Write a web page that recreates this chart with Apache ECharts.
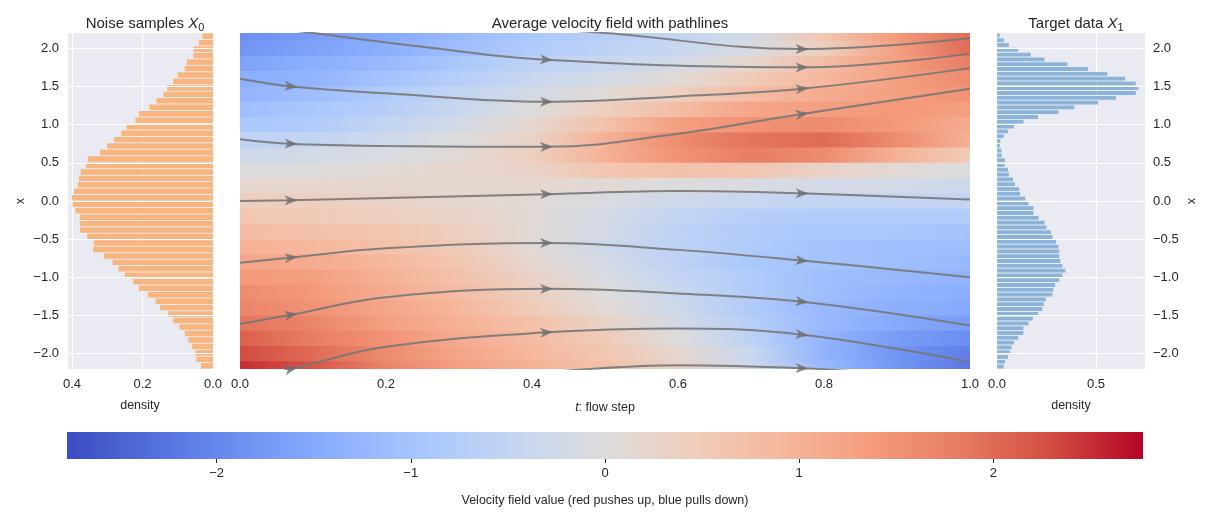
<!DOCTYPE html>
<html>
<head>
<meta charset="utf-8">
<script src="https://cdn.jsdelivr.net/npm/echarts@6/dist/echarts.min.js"></script>
<style>html,body{margin:0;padding:0;background:#fff}#main{width:1211px;height:512px}</style>
</head>
<body>
<div id="main"></div>
<script>
// noise histogram, bins from x=2.2 downwards
var noiseDensity = [0.03,0.04,0.055,0.056,0.074,0.08,0.10,0.113,0.13,0.14,0.16,0.18,0.21,0.22,0.245,0.26,0.28,0.30,0.32,0.355,0.36,0.375,0.38,0.383,0.394,0.40,0.398,0.39,0.378,0.377,0.377,0.357,0.338,0.34,0.31,0.285,0.268,0.25,0.226,0.21,0.185,0.163,0.15,0.127,0.113,0.095,0.08,0.07,0.06,0.05,0.047,0.034];
// target histogram, bins from x=2.2 downwards
var targetDensity = [0.014,0.034,0.06,0.107,0.17,0.24,0.355,0.46,0.557,0.647,0.70,0.713,0.70,0.60,0.51,0.39,0.31,0.207,0.134,0.086,0.055,0.034,0.017,0.014,0.022,0.024,0.04,0.038,0.055,0.06,0.081,0.091,0.112,0.117,0.143,0.159,0.184,0.184,0.21,0.24,0.25,0.272,0.28,0.298,0.31,0.314,0.314,0.319,0.33,0.345,0.33,0.314,0.293,0.284,0.28,0.247,0.236,0.228,0.207,0.181,0.159,0.133,0.133,0.107,0.086,0.074,0.065,0.055,0.04,0.034];
var xTicks = [-2,-1.5,-1,-0.5,0,0.5,1,1.5,2];

// velocity field grid
var fieldT = [0,0.1,0.2,0.3,0.4,0.5,0.6,0.7,0.8,0.9,1.0];
var fieldX = [2.2,2.0,1.8,1.6,1.4,1.2,1.0,0.8,0.6,0.4,0.2,0.0,-0.2,-0.4,-0.6,-0.8,-1.0,-1.2,-1.4,-1.6,-1.8,-2.0,-2.2];
var fieldV = [
 [-1.9,-1.7,-1.5,-1.2,-0.9,-0.7,-0.5,-0.2,0.6,1.4,2.0],
 [-1.8,-1.6,-1.4,-1.1,-0.8,-0.6,-0.4,-0.1,0.4,1.3,2.0],
 [-1.6,-1.4,-1.2,-0.9,-0.6,-0.4,-0.2,0.2,0.8,1.3,1.8],
 [-1.4,-1.3,-1.0,-0.7,-0.4,-0.2,0.1,0.5,0.9,1.3,1.6],
 [-1.3,-1.1,-0.8,-0.5,-0.2,0.1,0.4,0.8,1.1,1.3,1.5],
 [-1.1,-0.9,-0.7,-0.4,0.0,0.4,0.8,1.2,1.3,1.4,1.3],
 [-0.9,-0.8,-0.5,-0.2,0.2,0.7,1.3,1.5,1.6,1.4,1.1],
 [-0.6,-0.5,-0.3,0.0,0.3,1.0,1.6,1.9,2.0,1.6,1.0],
 [-0.3,-0.2,-0.1,0.1,0.4,1.0,1.5,1.8,1.6,1.0,0.5],
 [0.0,0.0,0.1,0.2,0.3,0.6,0.7,0.6,0.3,0.1,0.0],
 [0.2,0.2,0.2,0.2,0.2,0.1,0.0,-0.1,-0.2,-0.2,-0.3],
 [0.4,0.4,0.3,0.2,0.1,-0.1,-0.3,-0.4,-0.5,-0.5,-0.5],
 [0.6,0.5,0.4,0.3,0.1,-0.2,-0.5,-0.7,-0.8,-0.8,-0.8],
 [0.8,0.7,0.6,0.4,0.1,-0.2,-0.6,-0.8,-0.9,-0.9,-1.0],
 [1.0,0.9,0.7,0.5,0.1,-0.3,-0.6,-0.8,-1.0,-1.1,-1.1],
 [1.2,1.1,0.9,0.6,0.2,-0.2,-0.6,-0.9,-1.0,-1.1,-1.2],
 [1.4,1.3,1.0,0.7,0.3,-0.1,-0.5,-0.8,-1.1,-1.2,-1.3],
 [1.6,1.4,1.1,0.8,0.4,0.0,-0.4,-0.8,-1.1,-1.3,-1.4],
 [1.7,1.5,1.2,0.9,0.5,0.1,-0.3,-0.8,-1.2,-1.4,-1.5],
 [1.9,1.7,1.3,1.0,0.7,0.3,-0.2,-0.7,-1.2,-1.5,-1.7],
 [2.1,1.8,1.5,1.1,0.8,0.5,0.0,-0.6,-1.3,-1.7,-1.9],
 [2.3,2.0,1.6,1.2,0.9,0.6,0.2,-0.4,-1.3,-1.8,-2.1],
 [2.5,2.2,1.7,1.3,1.0,0.7,0.3,-0.3,-1.2,-1.8,-2.2]
];

// pathlines [t, x]
var path1 = [[0.40,2.26],[0.5,2.2],[0.77,1.99],[1.0,2.13]];
var path2 = [[0.05,2.26],[0.1,2.2],[0.25,2.02],[0.42,1.85],[0.77,1.75],[1.0,1.93]];
var path3 = [[0,1.6],[0.07,1.5],[0.2,1.41],[0.42,1.30],[0.6,1.37],[0.77,1.47],[1.0,1.74]];
var path4 = [[0,0.81],[0.07,0.75],[0.2,0.72],[0.42,0.71],[0.6,0.88],[0.77,1.14],[1.0,1.47]];
var path5 = [[0,0.0],[0.07,0.01],[0.42,0.09],[0.6,0.13],[0.77,0.1],[1.0,0.02]];
var path6 = [[0,-0.81],[0.07,-0.74],[0.2,-0.62],[0.42,-0.55],[0.6,-0.64],[0.77,-0.78],[1.0,-1.0]];
var path7 = [[0,-1.61],[0.07,-1.49],[0.2,-1.26],[0.42,-1.15],[0.6,-1.21],[0.77,-1.32],[1.0,-1.63]];
var path8 = [[0.02,-2.3],[0.07,-2.2],[0.2,-1.91],[0.42,-1.72],[0.6,-1.67],[0.77,-1.75],[1.0,-2.11]];
var path9 = [[0.40,-2.26],[0.6,-2.15],[0.77,-2.19],[0.9,-2.27]];
var paths = [path1,path2,path3,path4,path5,path6,path7,path8,path9];
var arrowT = [0.07,0.42,0.77];

var coolwarm = ['#3b4cc0','#5470de','#6f92f3','#8db0fe','#aac7fd','#c5d6f2','#dddcdc','#f0cdbb','#f6b69b','#f49a7b','#e67b62','#d24b40','#b40426'];
var vmax = 2.77;

var chart = echarts.init(document.getElementById('main'));
var FONT = 'Liberation Sans';
var tickLbl = {color:'#262626', fontSize:13, fontFamily:FONT};
var nameStyle = {color:'#262626', fontSize:12.5, fontFamily:FONT};
function cw(v){ return echarts.color.lerp(Math.max(0,Math.min(1,(v+vmax)/(2*vmax))), coolwarm); }
function fmt(v){ return (v<0?'\u2212':'')+Math.abs(v).toFixed(1); }

// one row segment per pair of neighbouring t nodes, shaded from one node colour to the next
var cells = [];
fieldX.forEach(function(x,i){
  for (var j=0;j<fieldT.length-1;j++) cells.push([fieldT[j], fieldT[j+1], x, fieldV[i][j], fieldV[i][j+1]]);
});

var nBin = 4.4/noiseDensity.length, tBin = 4.4/targetDensity.length;
var noiseData = noiseDensity.map(function(d,i){ return [d, 2.2-(i+0.5)*nBin]; });
var targetData = targetDensity.map(function(d,i){ return [d, 2.2-(i+0.5)*tBin]; });

function hbar(bin, color){
  return function(params, api){
    var d=api.value(0), y=api.value(1);
    var a=api.coord([0, y+bin/2]), b=api.coord([d, y-bin/2]);
    return {type:'rect', shape:{x:Math.min(a[0],b[0]), y:a[1]+0.5, width:Math.abs(b[0]-a[0]), height:b[1]-a[1]-1},
      style:{fill:color}};
  };
}
var gridLines = {silent:true, symbol:'none', label:{show:false}, lineStyle:{color:'#fff', width:1, type:'solid'},
  data:xTicks.map(function(v){ return {yAxis:v}; })};

function yAxisHist(gi, pos){
  return {gridIndex:gi, type:'value', min:-2.2, max:2.2, position:pos,
    name:'x', nameLocation:'middle', nameGap:40, nameRotate: pos==='right' ? -90 : 90,
    nameTextStyle:nameStyle,
    axisLine:{show:false}, axisTick:{show:false, customValues:xTicks},
    axisLabel:Object.assign({customValues:xTicks, formatter:fmt}, tickLbl),
    splitLine:{show:false}};
}
var titleRich = {a:{fontSize:15,fontWeight:'normal',color:'#262626',fontFamily:FONT},
  i:{fontSize:15,fontWeight:'normal',fontStyle:'italic',color:'#262626',fontFamily:FONT},
  s:{fontSize:11,fontWeight:'normal',color:'#262626',fontFamily:FONT,padding:[8,0,0,0]}};

var option = {
  animation:false,
  backgroundColor:'#fff',
  title:[
    {text:'{a|Noise samples }{i|X}{s|0}', left:140, top:9, textAlign:'center', textStyle:{fontWeight:'normal', rich:titleRich}},
    {text:'Average velocity field with pathlines', left:605, top:11, textAlign:'center', textStyle:{fontSize:15,fontWeight:'normal',color:'#262626',fontFamily:FONT}},
    {text:'{a|Target data }{i|X}{s|1}', left:1071, top:9, textAlign:'center', textStyle:{fontWeight:'normal', rich:titleRich}}
  ],
  grid:[
    {left:67, width:146, top:33, height:336, show:true, backgroundColor:'#eaeaf2', borderWidth:0},
    {left:240, width:730, top:33, height:336, show:true, backgroundColor:'#eaeaf2', borderWidth:0},
    {left:997, width:148, top:33, height:336, show:true, backgroundColor:'#eaeaf2', borderWidth:0},
    {left:67, width:1076, top:432, height:27, show:false}
  ],
  xAxis:[
    {gridIndex:0, type:'value', min:0, max:0.414, interval:0.2, inverse:true,
      name:'density', nameLocation:'middle', nameGap:30, nameTextStyle:nameStyle,
      axisLine:{show:false}, axisTick:{show:false}, axisLabel:Object.assign({showMaxLabel:false, margin:9, formatter:function(v){return v.toFixed(1);}},tickLbl),
      splitLine:{lineStyle:{color:'#fff'}}},
    {gridIndex:1, type:'value', min:0, max:1, interval:0.2,
      name:'{i|t}{a|: flow step}', nameLocation:'middle', nameGap:32,
      nameTextStyle:{rich:{i:{fontStyle:'italic',fontSize:12.5,color:'#262626',fontFamily:FONT},a:{fontSize:12.5,color:'#262626',fontFamily:FONT}}},
      axisLine:{show:false}, axisTick:{show:false}, axisLabel:Object.assign({margin:9, formatter:function(v){return v.toFixed(1);}},tickLbl),
      splitLine:{show:false}},
    {gridIndex:2, type:'value', min:0, max:0.747, interval:0.5,
      name:'density', nameLocation:'middle', nameGap:30, nameTextStyle:nameStyle,
      axisLine:{show:false}, axisTick:{show:false}, axisLabel:Object.assign({showMaxLabel:false, margin:9, formatter:function(v){return v.toFixed(1);}},tickLbl),
      splitLine:{lineStyle:{color:'#fff'}}},
    {gridIndex:3, type:'value', min:-vmax, max:vmax,
      name:'Velocity field value (red pushes up, blue pulls down)', nameLocation:'middle', nameGap:35,
      nameTextStyle:nameStyle,
      axisLine:{show:false},
      axisTick:{show:true, length:4, lineStyle:{color:'#262626'}, customValues:[-2,-1,0,1,2]},
      axisLabel:Object.assign({customValues:[-2,-1,0,1,2], formatter:function(v){return v<0?'\u2212'+Math.abs(v):''+v;}},tickLbl),
      splitLine:{show:false}}
  ],
  yAxis:[
    yAxisHist(0,'left'),
    {gridIndex:1, type:'value', min:-2.2, max:2.2, show:false, splitLine:{show:false}},
    yAxisHist(2,'right'),
    {gridIndex:3, type:'value', min:0, max:1, show:false}
  ],
  graphic:[{type:'rect', left:67, top:432, z:-1, shape:{width:1076, height:27},
    style:{fill:new echarts.graphic.LinearGradient(0,0,1,0, coolwarm.map(function(c,i){return {offset:i/(coolwarm.length-1), color:c};}))}}],
  series:[
    {type:'custom', xAxisIndex:0, yAxisIndex:0, data:noiseData, renderItem:hbar(nBin,'rgba(250,172,104,0.85)'), markLine:gridLines, z:2},
    {type:'custom', xAxisIndex:2, yAxisIndex:2, data:targetData, renderItem:hbar(tBin,'rgba(122,170,212,0.85)'), markLine:gridLines, z:2},
    {type:'custom', xAxisIndex:1, yAxisIndex:1, data:cells, clip:true,
      renderItem:function(params, api){
        var t0=api.value(0), t1=api.value(1), x=api.value(2);
        var p0=api.coord([t0, x+0.1]), p1=api.coord([t1, x-0.1]);
        var r = echarts.graphic.clipRectByRect({x:p0[0], y:p0[1], width:p1[0]-p0[0]+0.6, height:p1[1]-p0[1]+0.6},
          {x:params.coordSys.x, y:params.coordSys.y, width:params.coordSys.width, height:params.coordSys.height});
        return r && {type:'rect', shape:r, style:{fill:new echarts.graphic.LinearGradient(0,0,1,0,[
          {offset:0,color:cw(api.value(3))},{offset:1,color:cw(api.value(4))}])}};
      }}
  ]
};

paths.forEach(function(p){
  option.series.push({type:'line', xAxisIndex:1, yAxisIndex:1, data:p, smooth:0.4, symbol:'none', clip:true,
    lineStyle:{color:'#777', width:2, opacity:0.9}, z:5});
});
chart.setOption(option);

// arrows at the path points placed at arrowT, rotated along the path in pixel space
var arrows = [];
paths.forEach(function(p){
  arrowT.forEach(function(at){
    for (var k=0;k<p.length;k++){
      if (Math.abs(p[k][0]-at)<0.005 && p[k][1]<=2.2 && p[k][1]>=-2.2){
        var a = chart.convertToPixel({gridIndex:1}, p[Math.max(k-1,0)]);
        var b = chart.convertToPixel({gridIndex:1}, p[Math.min(k+1,p.length-1)]);
        var ang = Math.atan2(-(b[1]-a[1]), b[0]-a[0])*180/Math.PI;
        arrows.push({value:p[k], symbolRotate:ang});
      }
    }
  });
});
option.series.push({type:'scatter', xAxisIndex:1, yAxisIndex:1, data:arrows, z:6,
  symbol:'path://M0,0 L12,5 L0,10 L3,5 Z', symbolSize:[13,10], itemStyle:{color:'#6e6e6e'}});
chart.setOption(option);
</script>
</body>
</html>
